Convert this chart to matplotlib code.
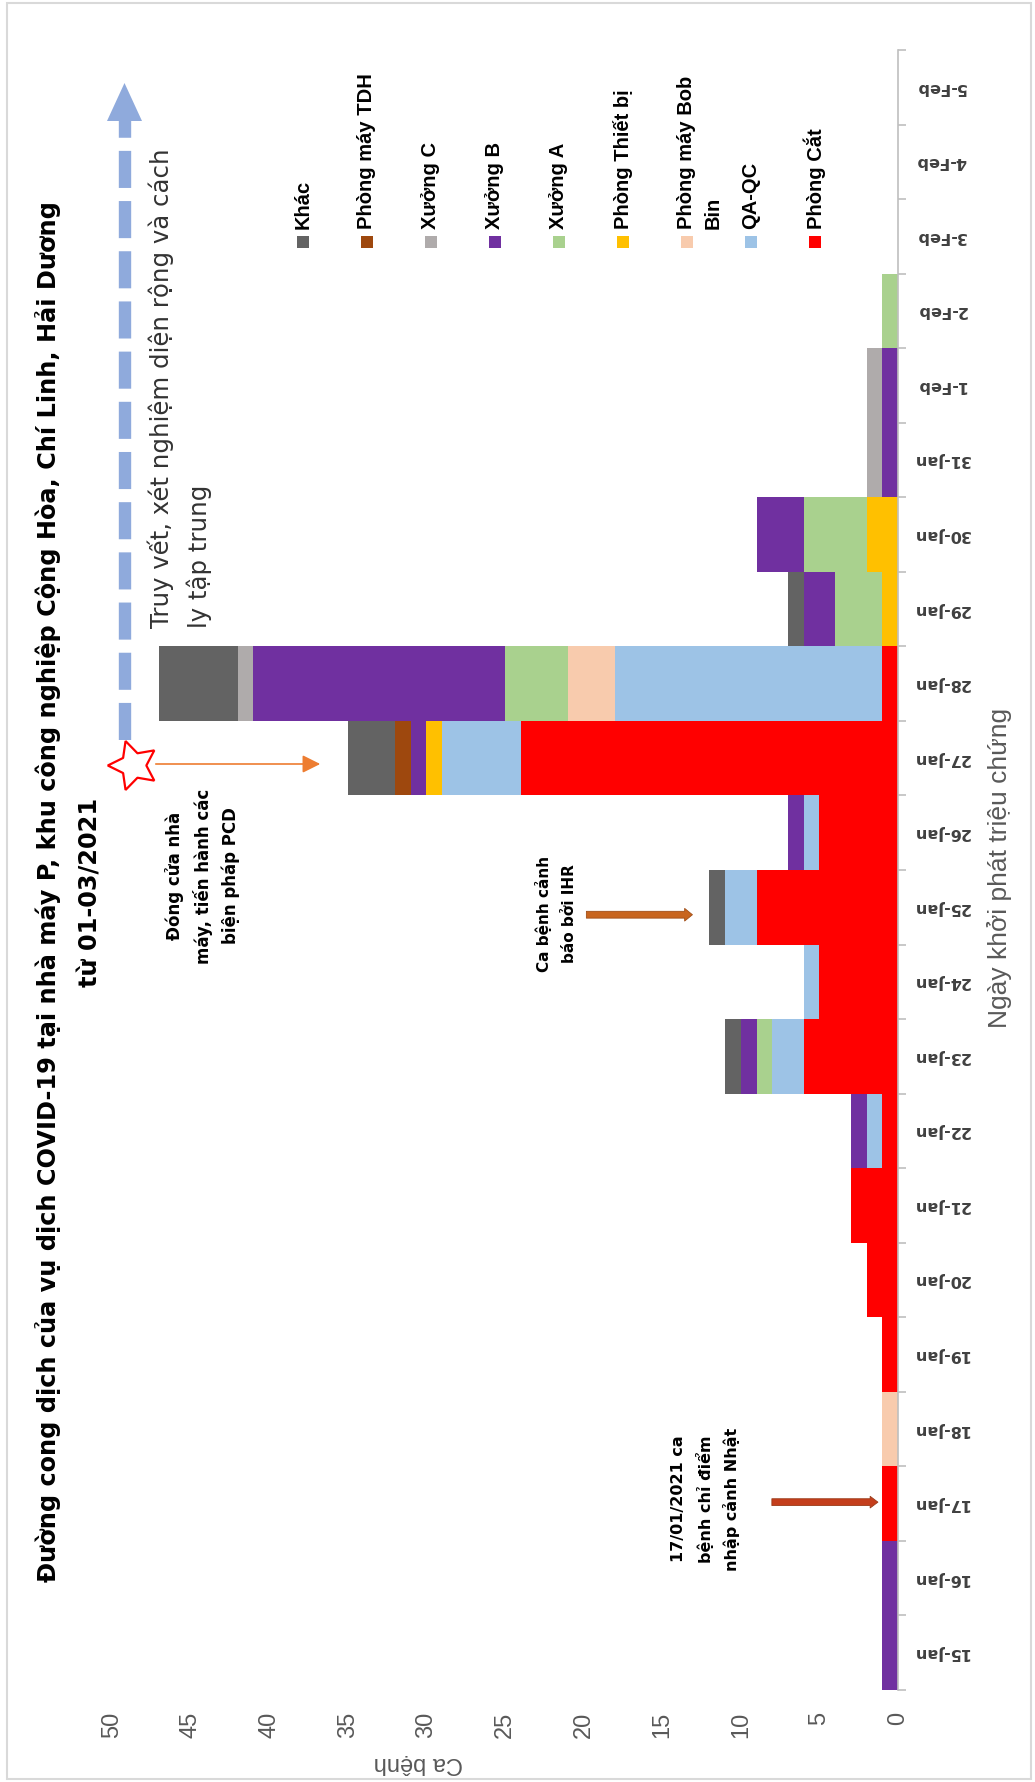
import matplotlib.pyplot as plt
import numpy as np
from matplotlib.lines import Line2D
from matplotlib.patches import Polygon, Rectangle, FancyArrowPatch

W, H = 1035, 1782

dates = ['15-Jan', '16-Jan', '17-Jan', '18-Jan', '19-Jan', '20-Jan', '21-Jan',
         '22-Jan', '23-Jan', '24-Jan', '25-Jan', '26-Jan', '27-Jan', '28-Jan',
         '29-Jan', '30-Jan', '31-Jan', '1-Feb', '2-Feb', '3-Feb', '4-Feb', '5-Feb']

# cases per day, one list per workplace (stacked from the axis outward)
phong_cat  = [0, 0, 1, 0, 1, 2, 3, 1, 6, 5, 9, 5, 24, 1, 0, 0, 0, 0, 0, 0, 0, 0]
qa_qc      = [0, 0, 0, 0, 0, 0, 0, 1, 2, 1, 2, 1, 5, 17, 0, 0, 0, 0, 0, 0, 0, 0]
bob_bin    = [0, 0, 0, 1, 0, 0, 0, 0, 0, 0, 0, 0, 0, 3, 0, 0, 0, 0, 0, 0, 0, 0]
thiet_bi   = [0, 0, 0, 0, 0, 0, 0, 0, 0, 0, 0, 0, 1, 0, 1, 2, 0, 0, 0, 0, 0, 0]
xuong_a    = [0, 0, 0, 0, 0, 0, 0, 0, 1, 0, 0, 0, 0, 4, 3, 4, 0, 0, 1, 0, 0, 0]
xuong_b    = [1, 1, 0, 0, 0, 0, 0, 1, 1, 0, 0, 1, 1, 16, 2, 3, 1, 1, 0, 0, 0, 0]
xuong_c    = [0, 0, 0, 0, 0, 0, 0, 0, 0, 0, 0, 0, 0, 1, 0, 0, 1, 1, 0, 0, 0, 0]
tdh        = [0, 0, 0, 0, 0, 0, 0, 0, 0, 0, 0, 0, 1, 0, 0, 0, 0, 0, 0, 0, 0, 0]
khac       = [0, 0, 0, 0, 0, 0, 0, 0, 1, 0, 1, 0, 3, 5, 1, 0, 0, 0, 0, 0, 0, 0]

series = [phong_cat, qa_qc, bob_bin, thiet_bi, xuong_a, xuong_b, xuong_c, tdh, khac]
names = ['Phòng Cắt', 'QA-QC', 'Phòng máy Bob\nBin', 'Phòng Thiết bị', 'Xưởng A',
         'Xưởng B', 'Xưởng C', 'Phòng máy TDH', 'Khác']
colors = ['#FF0000', '#9DC3E6', '#F8CBAD', '#FFC000', '#A9D18E',
          '#7030A0', '#AFABAB', '#9E480E', '#636363']

x_ticks = list(range(0, 51, 5))

title1 = 'Đường cong dịch của vụ dịch COVID-19 tại nhà máy P, khu công nghiệp Cộng Hòa, Chí Linh, Hải Dương'
title2 = 'từ 01-03/2021'


def fx(px):
    return px / W


def fy(py):
    return 1 - py / H


fig = plt.figure(figsize=(W / 100, H / 100), dpi=100)
fig.patch.set_facecolor('white')

# plot area: whole chart is turned on its side, cases grow to the left
left_px, right_px, top_px, bot_px = 112, 898, 50, 1690
ax = fig.add_axes([fx(left_px), fy(bot_px), fx(right_px - left_px), (bot_px - top_px) / H])

idx = np.arange(len(dates))
base = np.zeros(len(dates))
for vals, c in zip(series, colors):
    ax.barh(idx, vals, left=base, height=1.0, color=c, linewidth=0)
    base += np.array(vals)

ax.set_xlim(50, 0)
ax.set_ylim(-0.5, len(dates) - 0.5)

for s in ['left', 'top', 'bottom']:
    ax.spines[s].set_visible(False)
ax.spines['right'].set_color('#BFBFBF')
ax.spines['right'].set_linewidth(1.2)

ax.yaxis.tick_right()
ax.set_yticks(idx)
ax.set_yticklabels(dates, rotation=180, ha='center', va='center',
                   fontsize=11.5, fontweight='bold', color='#404040')
ax.set_yticks(np.arange(-0.5, len(dates), 1), minor=True)
ax.tick_params(axis='y', which='major', length=0, pad=31)
ax.tick_params(axis='y', which='minor', length=6, color='#BFBFBF', width=1.2,
               direction='out', right=True, left=False)

ax.set_xticks(x_ticks)
ax.set_xticklabels([str(v) for v in x_ticks], rotation=90, fontsize=17,
                   color='#595959', family='Liberation Sans')
ax.tick_params(axis='x', length=0, pad=16)

fig.text(fx(1000), fy(868), 'Ngày khởi phát triệu chứng', rotation=90, ha='center',
         va='center', fontsize=19, color='#595959', family='Liberation Sans')
fig.text(fx(418), fy(1763), 'Ca bệnh', rotation=180, ha='center', va='center',
         fontsize=17, color='#595959', family='Liberation Sans')

# title
fig.text(fx(48), fy(892), title1, rotation=90, ha='center', va='center',
         fontsize=17.3, fontweight='bold', color='black')
fig.text(fx(90), fy(892), title2, rotation=90, ha='center', va='center',
         fontsize=17.3, fontweight='bold', color='black')

# legend drawn by hand, rotated with the chart
for k, (name, c) in enumerate(zip(names[::-1], colors[::-1])):
    x = 303 + 64 * k
    fig.add_artist(Rectangle((fx(x - 6), fy(248)), 12 / W, 12 / H,
                             transform=fig.transFigure, facecolor=c, edgecolor='none'))
    for j, line in enumerate(name.split('\n')):
        fig.text(fx(x + 26 * j), fy(229), line, rotation=90, ha='center', va='bottom',
                 fontsize=14.5, fontweight='bold', family='Liberation Sans', color='black')

# dashed blue arrow: contact tracing, mass testing and quarantine
fig.add_artist(Line2D([fx(125), fx(125)], [fy(740), fy(121)], color='#8FAADC',
                      lw=8.9, dashes=(3.0, 1.06), solid_capstyle='butt',
                      dash_capstyle='butt', transform=fig.transFigure))
fig.add_artist(Polygon([(fx(107), fy(121)), (fx(142), fy(121)), (fx(124.5), fy(83))],
                       closed=True, facecolor='#8FAADC', edgecolor='none',
                       transform=fig.transFigure))
for j, line in enumerate(['Truy vết, xét nghiệm diện rộng và cách', 'ly tập trung']):
    fig.text(fx(161 + 38 * j), fy(628), line, rotation=90, ha='center', va='bottom',
             fontsize=17.6, color='#333333')

# factory closure marker
fig.add_artist(Line2D([fx(133)], [fy(765)], marker=(5, 1, 90), ms=37,
                      mfc='white', mec='red', mew=1.6, transform=fig.transFigure))
fig.add_artist(FancyArrowPatch((fx(153), fy(764)), (fx(323), fy(764)),
                               transform=fig.transFigure, color='#ED7D31', lw=1.2,
                               arrowstyle='-|>,head_length=0.9,head_width=0.45',
                               mutation_scale=12))
for j, line in enumerate(['Đóng cửa nhà', 'máy, tiến hành các', 'biện pháp PCD']):
    fig.text(fx(175 + 28 * j), fy(876), line, rotation=90, ha='center', va='center',
             fontsize=12, fontweight='bold', color='black')

# IHR alert
i25 = dates.index('25-Jan')
ax.annotate('', xy=(12.9, i25 - 0.1), xytext=(20.0, i25 - 0.1),
            arrowprops=dict(arrowstyle='simple,head_width=1.3,head_length=0.8,tail_width=0.7',
                            mutation_scale=7, facecolor='#C8651F', edgecolor='#A04E18', lw=0.6),
            annotation_clip=False)
for j, line in enumerate(['Ca bệnh cảnh', 'báo bởi IHR']):
    fig.text(fx(544 + 25 * j), fy(914), line, rotation=90, ha='center', va='center',
             fontsize=11, fontweight='bold', color='black')

# index case
i17 = dates.index('17-Jan')
ax.annotate('', xy=(1.1, i17 + 0.02), xytext=(8.2, i17 + 0.02),
            arrowprops=dict(arrowstyle='simple,head_width=1.2,head_length=0.8,tail_width=0.7',
                            mutation_scale=7, facecolor='#C43E1C', edgecolor='#9A3A18', lw=0.6),
            annotation_clip=False)
for j, line in enumerate(['17/01/2021 ca', 'bệnh chỉ điểm', 'nhập cảnh Nhật']):
    fig.text(fx(679 + 26 * j), fy(1499), line, rotation=90, ha='center', va='center',
             fontsize=11.5, fontweight='bold', color='black')

# thin frame around the image
fig.add_artist(Rectangle((fx(7), fy(1779)), fx(1024), 1776 / H, transform=fig.transFigure,
                         fill=False, edgecolor='#D9D9D9', lw=1.5))

fig.savefig('out.png', dpi=100)
